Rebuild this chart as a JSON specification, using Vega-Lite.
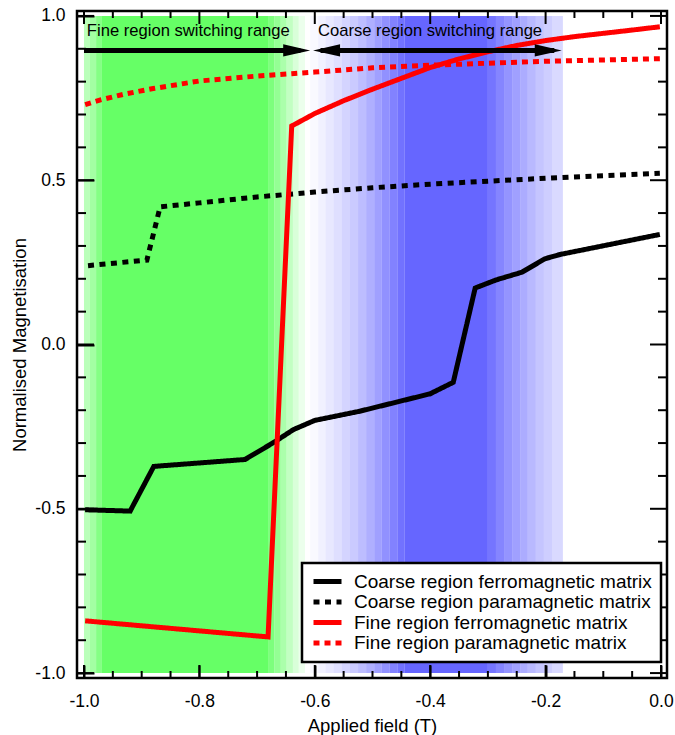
{
  "$schema": "https://vega.github.io/schema/vega-lite/v6.json",
  "width": 590,
  "height": 667,
  "autosize": {"type": "none"},
  "padding": {"left": 77, "top": 11, "right": 8, "bottom": 57},
  "background": "white",
  "config": {
    "font": "Liberation Sans",
    "view": {"stroke": "#000", "strokeWidth": 2.5},
    "axis": {
      "domain": false, "labelColor": "#000", "titleColor": "#000", "grid": false, "labelFontSize": 17.5,
      "titleFontSize": 18.5, "titleFontWeight": "normal", "labelFlush": false, "labelOverlap": false
    }
  },
  "datasets": {
    "stripes": [
      {"x0": -1.000, "x1": -0.990, "band": "fine", "intensity": 0.45},
      {"x0": -0.990, "x1": -0.979, "band": "fine", "intensity": 0.6},
      {"x0": -0.979, "x1": -0.970, "band": "fine", "intensity": 0.8},
      {"x0": -0.970, "x1": -0.681, "band": "fine", "intensity": 1.0},
      {"x0": -0.681, "x1": -0.670, "band": "fine", "intensity": 0.85},
      {"x0": -0.670, "x1": -0.659, "band": "fine", "intensity": 0.7},
      {"x0": -0.659, "x1": -0.649, "band": "fine", "intensity": 0.55},
      {"x0": -0.649, "x1": -0.638, "band": "fine", "intensity": 0.4},
      {"x0": -0.638, "x1": -0.628, "band": "fine", "intensity": 0.25},
      {"x0": -0.628, "x1": -0.617, "band": "fine", "intensity": 0.12},
      {"x0": -0.608, "x1": -0.594, "band": "coarse", "intensity": 0.04},
      {"x0": -0.594, "x1": -0.581, "band": "coarse", "intensity": 0.09},
      {"x0": -0.581, "x1": -0.567, "band": "coarse", "intensity": 0.15},
      {"x0": -0.567, "x1": -0.553, "band": "coarse", "intensity": 0.21},
      {"x0": -0.553, "x1": -0.539, "band": "coarse", "intensity": 0.28},
      {"x0": -0.539, "x1": -0.525, "band": "coarse", "intensity": 0.35},
      {"x0": -0.525, "x1": -0.511, "band": "coarse", "intensity": 0.43},
      {"x0": -0.511, "x1": -0.497, "band": "coarse", "intensity": 0.52},
      {"x0": -0.497, "x1": -0.484, "band": "coarse", "intensity": 0.62},
      {"x0": -0.484, "x1": -0.470, "band": "coarse", "intensity": 0.72},
      {"x0": -0.470, "x1": -0.457, "band": "coarse", "intensity": 0.82},
      {"x0": -0.457, "x1": -0.444, "band": "coarse", "intensity": 0.92},
      {"x0": -0.444, "x1": -0.300, "band": "coarse", "intensity": 1.0},
      {"x0": -0.300, "x1": -0.286, "band": "coarse", "intensity": 0.9},
      {"x0": -0.286, "x1": -0.272, "band": "coarse", "intensity": 0.8},
      {"x0": -0.272, "x1": -0.258, "band": "coarse", "intensity": 0.7},
      {"x0": -0.258, "x1": -0.244, "band": "coarse", "intensity": 0.62},
      {"x0": -0.244, "x1": -0.231, "band": "coarse", "intensity": 0.54},
      {"x0": -0.231, "x1": -0.217, "band": "coarse", "intensity": 0.46},
      {"x0": -0.217, "x1": -0.203, "band": "coarse", "intensity": 0.38},
      {"x0": -0.203, "x1": -0.189, "band": "coarse", "intensity": 0.32},
      {"x0": -0.189, "x1": -0.170, "band": "coarse", "intensity": 0.25}
    ],
    "curves": [
      {"applied_field": -0.998, "magnetisation": -0.503, "series": "Coarse region ferromagnetic matrix"},
      {"applied_field": -0.920, "magnetisation": -0.507, "series": "Coarse region ferromagnetic matrix"},
      {"applied_field": -0.879, "magnetisation": -0.371, "series": "Coarse region ferromagnetic matrix"},
      {"applied_field": -0.721, "magnetisation": -0.350, "series": "Coarse region ferromagnetic matrix"},
      {"applied_field": -0.672, "magnetisation": -0.299, "series": "Coarse region ferromagnetic matrix"},
      {"applied_field": -0.637, "magnetisation": -0.259, "series": "Coarse region ferromagnetic matrix"},
      {"applied_field": -0.600, "magnetisation": -0.231, "series": "Coarse region ferromagnetic matrix"},
      {"applied_field": -0.522, "magnetisation": -0.203, "series": "Coarse region ferromagnetic matrix"},
      {"applied_field": -0.400, "magnetisation": -0.150, "series": "Coarse region ferromagnetic matrix"},
      {"applied_field": -0.360, "magnetisation": -0.115, "series": "Coarse region ferromagnetic matrix"},
      {"applied_field": -0.322, "magnetisation": 0.172, "series": "Coarse region ferromagnetic matrix"},
      {"applied_field": -0.285, "magnetisation": 0.197, "series": "Coarse region ferromagnetic matrix"},
      {"applied_field": -0.241, "magnetisation": 0.220, "series": "Coarse region ferromagnetic matrix"},
      {"applied_field": -0.201, "magnetisation": 0.261, "series": "Coarse region ferromagnetic matrix"},
      {"applied_field": -0.175, "magnetisation": 0.274, "series": "Coarse region ferromagnetic matrix"},
      {"applied_field": -0.002, "magnetisation": 0.335, "series": "Coarse region ferromagnetic matrix"},
      {"applied_field": -0.993, "magnetisation": 0.240, "series": "Coarse region paramagnetic matrix"},
      {"applied_field": -0.891, "magnetisation": 0.257, "series": "Coarse region paramagnetic matrix"},
      {"applied_field": -0.868, "magnetisation": 0.419, "series": "Coarse region paramagnetic matrix"},
      {"applied_field": -0.800, "magnetisation": 0.431, "series": "Coarse region paramagnetic matrix"},
      {"applied_field": -0.700, "magnetisation": 0.449, "series": "Coarse region paramagnetic matrix"},
      {"applied_field": -0.600, "magnetisation": 0.464, "series": "Coarse region paramagnetic matrix"},
      {"applied_field": -0.500, "magnetisation": 0.477, "series": "Coarse region paramagnetic matrix"},
      {"applied_field": -0.400, "magnetisation": 0.488, "series": "Coarse region paramagnetic matrix"},
      {"applied_field": -0.300, "magnetisation": 0.497, "series": "Coarse region paramagnetic matrix"},
      {"applied_field": -0.200, "magnetisation": 0.506, "series": "Coarse region paramagnetic matrix"},
      {"applied_field": -0.100, "magnetisation": 0.514, "series": "Coarse region paramagnetic matrix"},
      {"applied_field": -0.002, "magnetisation": 0.521, "series": "Coarse region paramagnetic matrix"},
      {"applied_field": -0.998, "magnetisation": -0.841, "series": "Fine region ferromagnetic matrix"},
      {"applied_field": -0.681, "magnetisation": -0.890, "series": "Fine region ferromagnetic matrix"},
      {"applied_field": -0.640, "magnetisation": 0.665, "series": "Fine region ferromagnetic matrix"},
      {"applied_field": -0.600, "magnetisation": 0.703, "series": "Fine region ferromagnetic matrix"},
      {"applied_field": -0.550, "magnetisation": 0.742, "series": "Fine region ferromagnetic matrix"},
      {"applied_field": -0.500, "magnetisation": 0.777, "series": "Fine region ferromagnetic matrix"},
      {"applied_field": -0.450, "magnetisation": 0.810, "series": "Fine region ferromagnetic matrix"},
      {"applied_field": -0.400, "magnetisation": 0.843, "series": "Fine region ferromagnetic matrix"},
      {"applied_field": -0.350, "magnetisation": 0.869, "series": "Fine region ferromagnetic matrix"},
      {"applied_field": -0.300, "magnetisation": 0.891, "series": "Fine region ferromagnetic matrix"},
      {"applied_field": -0.250, "magnetisation": 0.910, "series": "Fine region ferromagnetic matrix"},
      {"applied_field": -0.200, "magnetisation": 0.925, "series": "Fine region ferromagnetic matrix"},
      {"applied_field": -0.150, "magnetisation": 0.937, "series": "Fine region ferromagnetic matrix"},
      {"applied_field": -0.100, "magnetisation": 0.947, "series": "Fine region ferromagnetic matrix"},
      {"applied_field": -0.050, "magnetisation": 0.957, "series": "Fine region ferromagnetic matrix"},
      {"applied_field": -0.002, "magnetisation": 0.967, "series": "Fine region ferromagnetic matrix"},
      {"applied_field": -0.998, "magnetisation": 0.730, "series": "Fine region paramagnetic matrix"},
      {"applied_field": -0.970, "magnetisation": 0.745, "series": "Fine region paramagnetic matrix"},
      {"applied_field": -0.930, "magnetisation": 0.762, "series": "Fine region paramagnetic matrix"},
      {"applied_field": -0.880, "magnetisation": 0.779, "series": "Fine region paramagnetic matrix"},
      {"applied_field": -0.800, "magnetisation": 0.802, "series": "Fine region paramagnetic matrix"},
      {"applied_field": -0.700, "magnetisation": 0.817, "series": "Fine region paramagnetic matrix"},
      {"applied_field": -0.600, "magnetisation": 0.829, "series": "Fine region paramagnetic matrix"},
      {"applied_field": -0.500, "magnetisation": 0.842, "series": "Fine region paramagnetic matrix"},
      {"applied_field": -0.400, "magnetisation": 0.850, "series": "Fine region paramagnetic matrix"},
      {"applied_field": -0.300, "magnetisation": 0.856, "series": "Fine region paramagnetic matrix"},
      {"applied_field": -0.200, "magnetisation": 0.862, "series": "Fine region paramagnetic matrix"},
      {"applied_field": -0.100, "magnetisation": 0.866, "series": "Fine region paramagnetic matrix"},
      {"applied_field": -0.002, "magnetisation": 0.870, "series": "Fine region paramagnetic matrix"}
    ],
    "arrows": [
      {"xs": -1.0, "xe": -0.625, "ya": 0.895},
      {"xs": -0.59, "xe": -0.185, "ya": 0.895}
    ],
    "heads": [
      {"x": -0.608, "y": 0.895, "dir": "right"},
      {"x": -0.603, "y": 0.895, "dir": "left"},
      {"x": -0.172, "y": 0.895, "dir": "right"}
    ],
    "notes": [
      {"x": -0.995, "y": 0.954, "label": "Fine region switching range"},
      {"x": -0.5945, "y": 0.954, "label": "Coarse region switching range"}
    ],
    "xticks": [
      {"v": -1.0, "kind": "major"}, {"v": -0.95, "kind": "minor"}, {"v": -0.9, "kind": "minor"}, {"v": -0.85, "kind": "minor"},
      {"v": -0.8, "kind": "major"}, {"v": -0.75, "kind": "minor"}, {"v": -0.7, "kind": "minor"}, {"v": -0.65, "kind": "minor"},
      {"v": -0.6, "kind": "major"}, {"v": -0.55, "kind": "minor"}, {"v": -0.5, "kind": "minor"}, {"v": -0.45, "kind": "minor"},
      {"v": -0.4, "kind": "major"}, {"v": -0.35, "kind": "minor"}, {"v": -0.3, "kind": "minor"}, {"v": -0.25, "kind": "minor"},
      {"v": -0.2, "kind": "major"}, {"v": -0.15, "kind": "minor"}, {"v": -0.1, "kind": "minor"}, {"v": -0.05, "kind": "minor"},
      {"v": 0.0, "kind": "major"}
    ],
    "yticks": [
      {"v": -1.0, "kind": "major"}, {"v": -0.9, "kind": "minor"}, {"v": -0.8, "kind": "minor"}, {"v": -0.7, "kind": "minor"}, {"v": -0.6, "kind": "minor"},
      {"v": -0.5, "kind": "major"}, {"v": -0.4, "kind": "minor"}, {"v": -0.3, "kind": "minor"}, {"v": -0.2, "kind": "minor"}, {"v": -0.1, "kind": "minor"},
      {"v": 0.0, "kind": "major"}, {"v": 0.1, "kind": "minor"}, {"v": 0.2, "kind": "minor"}, {"v": 0.3, "kind": "minor"}, {"v": 0.4, "kind": "minor"},
      {"v": 0.5, "kind": "major"}, {"v": 0.6, "kind": "minor"}, {"v": 0.7, "kind": "minor"}, {"v": 0.8, "kind": "minor"}, {"v": 0.9, "kind": "minor"},
      {"v": 1.0, "kind": "major"}
    ]
  },
  "resolve": {"axis": {"x": "independent", "y": "independent"}},
  "layer": [
    {
      "data": {"name": "stripes"},
      "mark": {"type": "rect", "strokeWidth": 0},
      "encoding": {
        "x": {"field": "x0", "type": "quantitative", "scale": {"domain": [-1.0121, 0.0104], "nice": false, "zero": false}, "axis": null},
        "x2": {"field": "x1"},
        "y": {"datum": -1, "type": "quantitative", "scale": {"domain": [-1.015, 1.015], "nice": false, "zero": false}, "axis": null},
        "y2": {"datum": 1},
        "fill": {"field": "band", "type": "nominal", "scale": {"domain": ["fine", "coarse"], "range": ["#66ff66", "#6666ff"]}, "legend": null},
        "opacity": {"field": "intensity", "type": "quantitative", "scale": {"domain": [0, 1], "range": [0, 1]}, "legend": null}
      }
    },
    {
      "data": {"name": "curves"},
      "mark": {"type": "line", "strokeWidth": 5, "strokeCap": "butt"},
      "encoding": {
        "x": {"field": "applied_field", "type": "quantitative", "scale": {"domain": [-1.0121, 0.0104], "nice": false, "zero": false},
              "axis": {"orient": "bottom", "offset": -13, "tickSize": 13, "ticks": true, "tickColor": "#000000", "tickOpacity": 1, "tickWidth": 2, "zindex": 1, "values": [-1,-0.8,-0.6,-0.4,-0.2,0], "labelPadding": 28.7, "labelBaseline": "alphabetic",
                       "labelExpr": "replace(format(datum.value, '.1f'), '\u2212', '-')",
                       "title": "Applied field (T)", "titleY": 66, "titleBaseline": "alphabetic"}},
        "y": {"field": "magnetisation", "type": "quantitative", "scale": {"domain": [-1.015, 1.015], "nice": false, "zero": false},
              "axis": {"orient": "left", "offset": -17, "tickSize": 17, "ticks": true, "tickColor": "#000000", "tickOpacity": 1, "tickWidth": 2, "zindex": 1, "values": [-1,-0.5,0,0.5,1], "labelPadding": 12,
                       "labelExpr": "replace(format(datum.value, '.1f'), '\u2212', '-')",
                       "title": "Normalised Magnetisation", "titleX": -69, "titleBaseline": "alphabetic"}},
        "color": {"field": "series", "type": "nominal",
                  "scale": {"domain": ["Coarse region ferromagnetic matrix", "Coarse region paramagnetic matrix", "Fine region ferromagnetic matrix", "Fine region paramagnetic matrix"],
                            "range": ["#000000", "#000000", "#ff0000", "#ff0000"]},
                  "legend": {"title": null, "orient": "none", "legendX": 225, "legendY": 552, "symbolType": "stroke", "symbolSize": 784, "symbolStrokeWidth": 5,
                             "labelFontSize": 19, "labelColor": "#000", "labelLimit": 500, "padding": 9, "strokeColor": "#000", "fillColor": "#fff",
                             "rowPadding": 0.5, "labelOffset": 10, "clipHeight": 19,
                             "encode": {"legend": {"update": {"strokeWidth": {"value": 2.5}}}}}},
        "strokeDash": {"field": "series", "type": "nominal",
                  "scale": {"domain": ["Coarse region ferromagnetic matrix", "Coarse region paramagnetic matrix", "Fine region ferromagnetic matrix", "Fine region paramagnetic matrix"],
                            "range": [[1, 0], [6, 5.5], [1, 0], [6, 5]]},
                  "legend": {"title": null, "orient": "none", "legendX": 225, "legendY": 552, "symbolType": "stroke", "symbolSize": 784, "symbolStrokeWidth": 5,
                             "labelFontSize": 19, "labelColor": "#000", "labelLimit": 500, "padding": 9, "strokeColor": "#000", "fillColor": "#fff",
                             "rowPadding": 0.5, "labelOffset": 10, "clipHeight": 19,
                             "encode": {"legend": {"update": {"strokeWidth": {"value": 2.5}}}}}}
      }
    },
    {
      "data": {"name": "arrows"},
      "mark": {"type": "rule", "strokeWidth": 5, "color": "#000"},
      "encoding": {
        "x": {"field": "xs", "type": "quantitative", "scale": {"domain": [-1.0121, 0.0104], "nice": false, "zero": false}, "axis": null},
        "x2": {"field": "xe"},
        "y": {"field": "ya", "type": "quantitative", "scale": {"domain": [-1.015, 1.015], "nice": false, "zero": false}, "axis": null}
      }
    },
    {
      "data": {"name": "heads"},
      "mark": {"type": "point", "filled": true, "color": "#000", "size": 729, "opacity": 1, "strokeWidth": 0},
      "encoding": {
        "x": {"field": "x", "type": "quantitative", "scale": {"domain": [-1.0121, 0.0104], "nice": false, "zero": false}, "axis": null},
        "y": {"field": "y", "type": "quantitative", "scale": {"domain": [-1.015, 1.015], "nice": false, "zero": false}, "axis": null},
        "shape": {"field": "dir", "type": "nominal", "scale": {"domain": ["right", "left"], "range": ["M0,0L-2,-0.45L-2,0.45Z", "M0,0L2,-0.45L2,0.45Z"]}, "legend": null}
      }
    },
    {
      "data": {"name": "notes"},
      "mark": {"type": "text", "align": "left", "baseline": "middle", "fontSize": 16.6, "color": "#000"},
      "encoding": {
        "x": {"field": "x", "type": "quantitative", "scale": {"domain": [-1.0121, 0.0104], "nice": false, "zero": false}, "axis": null},
        "y": {"field": "y", "type": "quantitative", "scale": {"domain": [-1.015, 1.015], "nice": false, "zero": false}, "axis": null},
        "text": {"field": "label"}
      }
    },
    {
      "data": {"name": "xticks"},
      "transform": [{"filter": "datum.kind === 'major'"}],
      "mark": {"type": "rule", "strokeWidth": 2, "color": "#000"},
      "encoding": {
        "x": {"field": "v", "type": "quantitative", "scale": {"domain": [-1.0121, 0.0104], "nice": false, "zero": false}, "axis": null},
        "y": {"datum": -1.015, "type": "quantitative", "scale": {"domain": [-1.015, 1.015], "nice": false, "zero": false}, "axis": null},
        "y2": {"datum": -0.9754}
      }
    },
    {
      "data": {"name": "xticks"},
      "transform": [{"filter": "datum.kind === 'minor'"}],
      "mark": {"type": "rule", "strokeWidth": 2, "color": "#000"},
      "encoding": {
        "x": {"field": "v", "type": "quantitative", "scale": {"domain": [-1.0121, 0.0104], "nice": false, "zero": false}, "axis": null},
        "y": {"datum": -1.015, "type": "quantitative", "scale": {"domain": [-1.015, 1.015], "nice": false, "zero": false}, "axis": null},
        "y2": {"datum": -0.9937}
      }
    },
    {
      "data": {"name": "xticks"},
      "transform": [{"filter": "datum.kind === 'major'"}],
      "mark": {"type": "rule", "strokeWidth": 2, "color": "#000"},
      "encoding": {
        "x": {"field": "v", "type": "quantitative", "scale": {"domain": [-1.0121, 0.0104], "nice": false, "zero": false}, "axis": null},
        "y": {"datum": 1.015, "type": "quantitative", "scale": {"domain": [-1.015, 1.015], "nice": false, "zero": false}, "axis": null},
        "y2": {"datum": 0.9754}
      }
    },
    {
      "data": {"name": "xticks"},
      "transform": [{"filter": "datum.kind === 'minor'"}],
      "mark": {"type": "rule", "strokeWidth": 2, "color": "#000"},
      "encoding": {
        "x": {"field": "v", "type": "quantitative", "scale": {"domain": [-1.0121, 0.0104], "nice": false, "zero": false}, "axis": null},
        "y": {"datum": 1.015, "type": "quantitative", "scale": {"domain": [-1.015, 1.015], "nice": false, "zero": false}, "axis": null},
        "y2": {"datum": 0.9937}
      }
    },
    {
      "data": {"name": "yticks"},
      "transform": [{"filter": "datum.kind === 'major'"}],
      "mark": {"type": "rule", "strokeWidth": 2, "color": "#000"},
      "encoding": {
        "y": {"field": "v", "type": "quantitative", "scale": {"domain": [-1.015, 1.015], "nice": false, "zero": false}, "axis": null},
        "x": {"datum": -1.0121, "type": "quantitative", "scale": {"domain": [-1.0121, 0.0104], "nice": false, "zero": false}, "axis": null},
        "x2": {"datum": -0.9826}
      }
    },
    {
      "data": {"name": "yticks"},
      "transform": [{"filter": "datum.kind === 'minor'"}],
      "mark": {"type": "rule", "strokeWidth": 2, "color": "#000"},
      "encoding": {
        "y": {"field": "v", "type": "quantitative", "scale": {"domain": [-1.015, 1.015], "nice": false, "zero": false}, "axis": null},
        "x": {"datum": -1.0121, "type": "quantitative", "scale": {"domain": [-1.0121, 0.0104], "nice": false, "zero": false}, "axis": null},
        "x2": {"datum": -0.9965}
      }
    },
    {
      "data": {"name": "yticks"},
      "transform": [{"filter": "datum.kind === 'major'"}],
      "mark": {"type": "rule", "strokeWidth": 2, "color": "#000"},
      "encoding": {
        "y": {"field": "v", "type": "quantitative", "scale": {"domain": [-1.015, 1.015], "nice": false, "zero": false}, "axis": null},
        "x": {"datum": 0.0104, "type": "quantitative", "scale": {"domain": [-1.0121, 0.0104], "nice": false, "zero": false}, "axis": null},
        "x2": {"datum": -0.0191}
      }
    },
    {
      "data": {"name": "yticks"},
      "transform": [{"filter": "datum.kind === 'minor'"}],
      "mark": {"type": "rule", "strokeWidth": 2, "color": "#000"},
      "encoding": {
        "y": {"field": "v", "type": "quantitative", "scale": {"domain": [-1.015, 1.015], "nice": false, "zero": false}, "axis": null},
        "x": {"datum": 0.0104, "type": "quantitative", "scale": {"domain": [-1.0121, 0.0104], "nice": false, "zero": false}, "axis": null},
        "x2": {"datum": -0.0052}
      }
    }
  ]
}
